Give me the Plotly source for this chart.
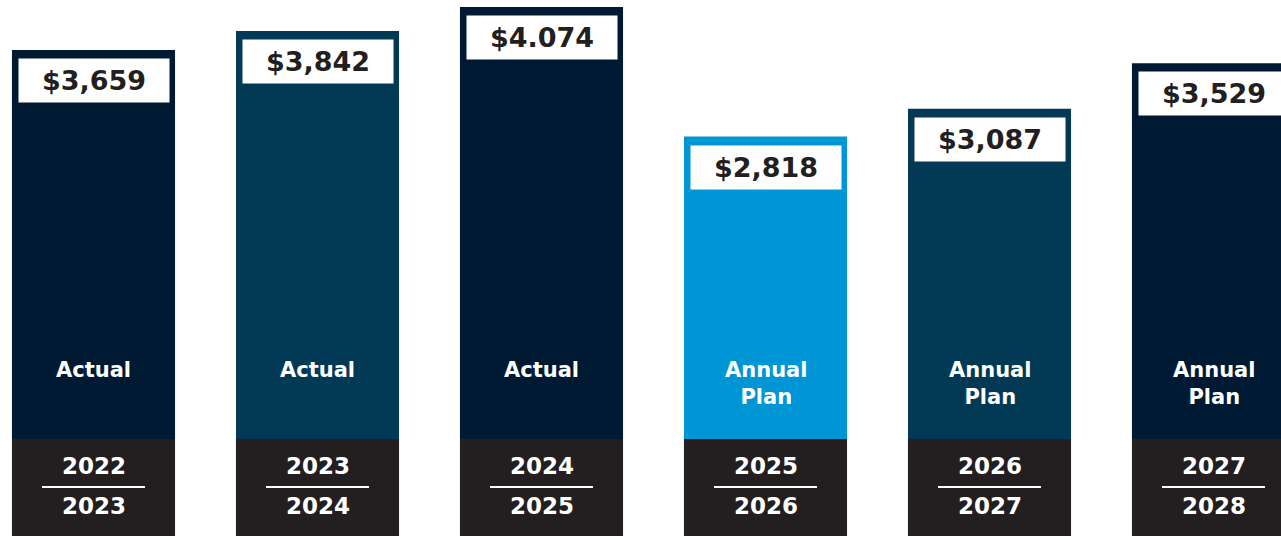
import plotly.graph_objects as go

categories = ["2022/2023", "2023/2024", "2024/2025", "2025/2026", "2026/2027", "2027/2028"]
year_top = ["2022", "2023", "2024", "2025", "2026", "2027"]
year_bottom = ["2023", "2024", "2025", "2026", "2027", "2028"]
values = [3659, 3842, 4074, 2818, 3087, 3529]
value_labels = ["$3,659", "$3,842", "$4.074", "$2,818", "$3,087", "$3,529"]
status = ["Actual", "Actual", "Actual", "Annual<br>Plan", "Annual<br>Plan", "Annual<br>Plan"]
colors = ["#011a33", "#023a56", "#011a33", "#0096d6", "#023a56", "#011a33"]

BASE_COLOR = "#231f20"
Y_MIN, Y_MAX = -1058, 4143
BAR_FLOOR = -116
BAR_W = 0.728
FONT = "DejaVu Sans"
x = list(range(len(categories)))

fig = go.Figure()
# dark year base
fig.add_trace(go.Bar(x=x, y=[BAR_FLOOR - (Y_MIN - 100)] * len(x), base=Y_MIN - 100,
                     width=BAR_W, marker=dict(color=BASE_COLOR, line=dict(width=0)),
                     hoverinfo="skip"))
# coloured value bars
fig.add_trace(go.Bar(x=x, y=[v - BAR_FLOOR for v in values], base=BAR_FLOOR,
                     width=BAR_W, marker=dict(color=colors, line=dict(width=0)),
                     hovertext=categories, hoverinfo="text"))

annotations = []
shapes = []
for i in x:
    annotations.append(dict(x=i, y=values[i], xref="x", yref="y", yanchor="top", yshift=-8,
                            text="<b>" + value_labels[i] + "</b>", showarrow=False,
                            bgcolor="white", width=150, height=43, borderpad=0,
                            font=dict(family=FONT, size=27, color="#231f20")))
    annotations.append(dict(x=i, y=0.335, xref="x", yref="paper", yanchor="top",
                            text="<b>" + status[i] + "</b>", showarrow=False,
                            font=dict(family=FONT, size=21, color="white")))
    annotations.append(dict(x=i, y=1 - 466 / 536, xref="x", yref="paper", yanchor="middle",
                            text="<b>" + year_top[i] + "</b>", showarrow=False,
                            font=dict(family=FONT, size=23, color="white")))
    annotations.append(dict(x=i, y=1 - 506 / 536, xref="x", yref="paper", yanchor="middle",
                            text="<b>" + year_bottom[i] + "</b>", showarrow=False,
                            font=dict(family=FONT, size=23, color="white")))
    shapes.append(dict(type="line", xref="x", yref="paper", x0=i - 0.23, x1=i + 0.23,
                       y0=1 - 487 / 536, y1=1 - 487 / 536,
                       line=dict(color="white", width=2)))

fig.update_layout(
    width=1281, height=536,
    margin=dict(l=0, r=0, t=0, b=0),
    paper_bgcolor="white", plot_bgcolor="white",
    showlegend=False, barmode="overlay",
    xaxis=dict(range=[-93.5 / 224, (1281 - 93.5) / 224], visible=False, fixedrange=True),
    yaxis=dict(range=[Y_MIN, Y_MAX], visible=False, fixedrange=True),
    annotations=annotations, shapes=shapes,
)

fig.write_html("out.html", config={"displayModeBar": False},
               post_script="document.body.style.margin='0';document.body.style.overflow='hidden';")
